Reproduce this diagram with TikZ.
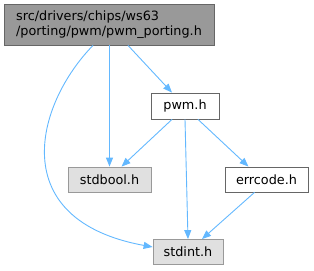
\documentclass[tikz,border=0pt]{standalone}
\usepackage{fontspec}
\setmainfont{DejaVu Sans}
\usetikzlibrary{arrows.meta}
\definecolor{edgeblue}{HTML}{63B8FF}
\definecolor{darkborder}{HTML}{666666}
\definecolor{lightborder}{HTML}{999999}
\definecolor{topfill}{HTML}{999999}
\definecolor{sysfill}{HTML}{E0E0E0}
\tikzset{
  filebox/.style={draw=darkborder, fill=white, line width=0.8pt, inner sep=0pt,
    minimum height=25pt, font=\fontsize{12.8}{15}\selectfont, text=black},
  topbox/.style={filebox, fill=topfill, minimum height=41pt, align=left},
  sysbox/.style={filebox, draw=lightborder, fill=sysfill},
  dep/.style={draw=edgeblue, line width=0.9pt, -{Triangle[length=9pt,width=7pt]}}
}
\begin{document}
\begin{tikzpicture}[x=1pt,y=-1pt]
\useasboundingbox (0,0) rectangle (314,271);
\node[topbox, minimum width=210pt] (top) at (109,24.5) {src/drivers/chips/ws63\\/porting/pwm/pwm\_porting.h};
\node[filebox, minimum width=68pt, minimum height=26pt] (pwm) at (185,106) {pwm.h};
\node[sysbox, minimum width=83pt] (stdbool) at (109.5,179.5) {stdbool.h};
\node[filebox, minimum width=83pt] (errcode) at (266.5,179.5) {errcode.h};
\node[sysbox, minimum width=70pt] (stdint) at (188,252) {stdint.h};

\draw[dep] ([xshift=19pt]top.south) -- ([xshift=-13pt]pwm.north);
\draw[dep] ([xshift=0.5pt]top.south) -- (stdbool.north);
\draw[dep] ([xshift=-16pt]top.south) .. controls (35,105) and (5,220) .. ([yshift=5pt]stdint.west);
\draw[dep] ([xshift=-13pt]pwm.south) -- ([xshift=12pt]stdbool.north);
\draw[dep] (pwm.south) -- (stdint.north);
\draw[dep] ([xshift=13pt]pwm.south) -- ([xshift=-18pt]errcode.north);
\draw[dep] ([xshift=-12pt]errcode.south) -- ([xshift=14pt]stdint.north);
\end{tikzpicture}
\end{document}
